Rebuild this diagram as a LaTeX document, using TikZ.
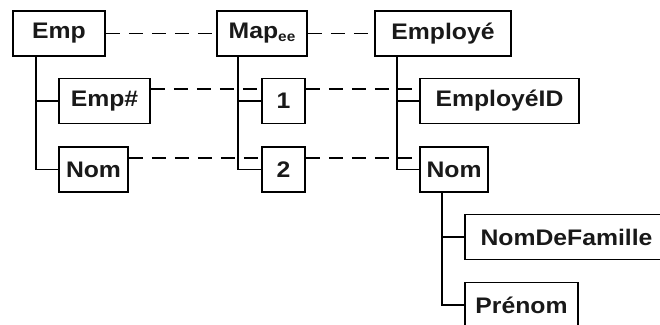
\documentclass[tikz,border=0pt]{standalone}
\usepackage{fontspec}
\setmainfont[FakeStretch=1.1]{Liberation Sans}
\begin{document}
\begin{tikzpicture}[x=1pt,y=-1pt,
  box/.style={draw, line width=1.9pt, inner sep=0pt, minimum height=45pt,
    font=\fontsize{22.5}{26}\selectfont\bfseries, text=black!90},
  tree/.style={line width=1.7pt},
  link/.style={line width=1.7pt, dash pattern=on 14pt off 9pt},
]
\useasboundingbox (0,0) rectangle (660,324);
\begin{scope}
\clip (0,0) rectangle (660,324);
\node[box, minimum width=92pt]  (Emp)     at (59,33.5)   {Emp};
\node[box, minimum width=90pt]  (Map)     at (262,33.5)  {Map{\fontsize{14}{14}\selectfont\raisebox{-3pt}{ee}}};
\node[box, minimum width=136pt] (Employe) at (443,33.5)  {Employé};
\node[box, minimum width=91pt]  (EmpNum)  at (104.5,101) {Emp\#};
\node[box, minimum width=69pt]  (NomL)    at (93.5,169.5){Nom};
\node[box, minimum width=43pt]  (One)     at (283.5,101) {1};
\node[box, minimum width=43pt]  (Two)     at (283.5,169.5){2};
\node[box, minimum width=159pt] (EmpID)   at (499.5,101) {EmployéID};
\node[box, minimum width=68pt]  (NomR)    at (454,169.5) {Nom};
\node[box, minimum width=203pt] (NomDF)   at (566.5,237) {NomDeFamille};
\node[box, minimum width=113pt] (Prenom)  at (521.5,305) {Prénom};

% tree connectors
\draw[tree] ([xshift=24pt]Emp.south west) |- (EmpNum.west);
\draw[tree] ([xshift=24pt]Emp.south west) |- (NomL.west);
\draw[tree] ([xshift=22pt]Map.south west) |- (One.west);
\draw[tree] ([xshift=22pt]Map.south west) |- (Two.west);
\draw[tree] ([xshift=23pt]Employe.south west) |- (EmpID.west);
\draw[tree] ([xshift=23pt]Employe.south west) |- (NomR.west);
\draw[tree] ([xshift=23pt]NomR.south west) |- (NomDF.west);
\draw[tree] ([xshift=23pt]NomR.south west) |- (Prenom.west);

% mapping links
\draw[link] (Emp.east) -- (Map.west);
\draw[link] (Map.east) -- (Employe.west);
\draw[link] ([yshift=12pt]EmpNum.east) -- ([yshift=12pt]One.west);
\draw[link] ([yshift=12pt]One.east) -- ([yshift=12pt]EmpID.west);
\draw[link] ([yshift=11.5pt]NomL.east) -- ([yshift=11.5pt]Two.west);
\draw[link] ([yshift=11.5pt]Two.east) -- ([yshift=11.5pt]NomR.west);
\end{scope}
\end{tikzpicture}
\end{document}
